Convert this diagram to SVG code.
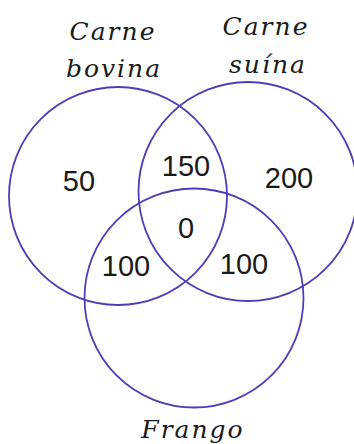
<svg xmlns="http://www.w3.org/2000/svg" width="354" height="444" viewBox="0 0 354 444">
<style>
.c{fill:none;stroke:#4b3fb8;stroke-width:1.8}
.lab{font-family:"DejaVu Serif","Liberation Serif",serif;font-style:italic;font-size:25px;fill:#1a1a1a;text-anchor:middle;letter-spacing:2px}
.num{font-family:"Liberation Sans",Arial,sans-serif;font-size:29px;fill:#1a1a1a;text-anchor:middle}
</style>
<rect width="354" height="444" fill="#fff"/>
<g id="bovina">
<circle class="c" cx="118" cy="196" r="109"/>
<text class="lab" x="113" y="40">Carne</text>
<text class="lab" x="114" y="77">bovina</text>
</g>
<g id="suina">
<circle class="c" cx="248" cy="191.5" r="109.5"/>
<text class="lab" x="266" y="35">Carne</text>
<text class="lab" x="268" y="73">suína</text>
</g>
<g id="frango">
<circle class="c" cx="194" cy="298" r="109.5"/>
<text class="lab" x="193" y="438">Frango</text>
</g>
<g id="valores">
<text class="num" x="79" y="191">50</text>
<text class="num" x="186" y="176">150</text>
<text class="num" x="289" y="188">200</text>
<text class="num" x="186" y="238">0</text>
<text class="num" x="126" y="276">100</text>
<text class="num" x="244" y="274">100</text>
</g>
</svg>
